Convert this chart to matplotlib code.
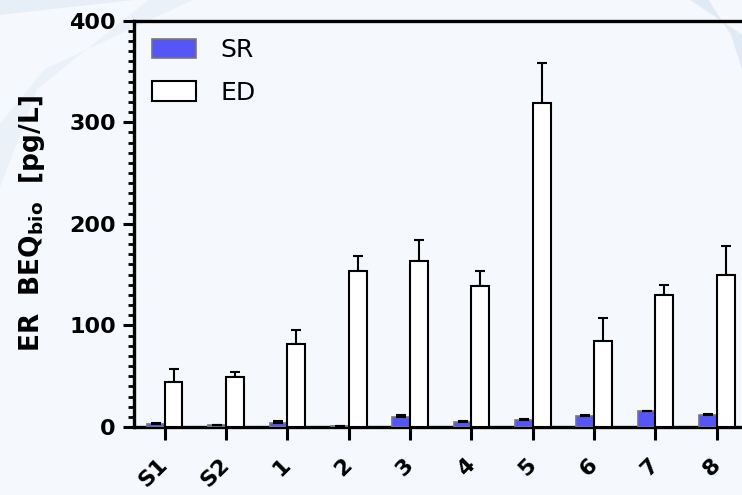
import matplotlib
matplotlib.use("Agg")
import matplotlib.pyplot as plt
import numpy as np
from matplotlib.patches import Polygon
from matplotlib.ticker import MultipleLocator

categories = ["S1", "S2", "1", "2", "3", "4", "5", "6", "7", "8"]
sr_values = [3, 1.5, 4, 1, 10, 4.6, 6.6, 11, 15.4, 12]
sr_errors = [0.5, 0.5, 1.5, 0.3, 1.5, 1.0, 1.0, 1.0, 0.8, 0.6]
ed_values = [44, 49, 82, 154, 163, 139, 319, 85, 130, 150]
ed_errors = [13, 5, 13, 14, 21, 15, 39, 22, 10, 28]

fig = plt.figure(figsize=(7.42, 4.95), dpi=100, facecolor="#f5f9fd")

# subtle background swooshes (behind everything)
fig.patches.append(Polygon([(0, 0.97), (0.18, 1.0), (0.0, 1.0)], closed=True,
                           transform=fig.transFigure, facecolor="#e6eef7", edgecolor="none", zorder=-10))
fig.patches.append(Polygon([(0, 0.62), (0.05, 0.82), (0.20, 1.0), (0.26, 1.0), (0.06, 0.86), (0, 0.75)],
                           closed=True, transform=fig.transFigure, facecolor="#eaf1f8", edgecolor="none", zorder=-10))
fig.patches.append(Polygon([(0.93, 1.0), (1.0, 0.93), (1.0, 0.86), (0.985, 0.93), (0.955, 1.0)], closed=True,
                           transform=fig.transFigure, facecolor="#e0eaf5", edgecolor="none", zorder=-10))

ax = fig.add_axes([0.1806, 0.1374, 0.8194, 0.8209])
ax.set_facecolor("none")

x = np.arange(len(categories))
w = 0.29
ax.bar(x - w / 2, sr_values, width=w, color="#5555f8", edgecolor="#777777", linewidth=1.2,
       label="SR", zorder=3)
ax.errorbar(x - w / 2, sr_values, yerr=[np.zeros(len(sr_errors)), sr_errors], fmt="none",
            ecolor="black", elinewidth=1.5, capsize=3.6, capthick=1.5, zorder=4)
ax.bar(x + w / 2, ed_values, width=w, color="white", edgecolor="black", linewidth=1.5,
       label="ED", zorder=3)
ax.errorbar(x + w / 2, ed_values, yerr=[np.zeros(len(ed_errors)), ed_errors], fmt="none",
            ecolor="black", elinewidth=1.5, capsize=3.6, capthick=1.5, zorder=2)

ax.set_xlim(-0.5, 9.41)
ax.set_ylim(0, 400)
ax.yaxis.set_major_locator(MultipleLocator(100))
ax.yaxis.set_minor_locator(MultipleLocator(10))

for s in ["left", "bottom", "top"]:
    ax.spines[s].set_linewidth(2.4)
ax.spines["right"].set_visible(False)

ax.tick_params(axis="y", which="major", length=8, width=2.2, direction="out", pad=5)
ax.tick_params(axis="y", which="minor", length=4.5, width=2.0, direction="out")
ax.tick_params(axis="x", which="major", length=9, width=2.2, direction="out", pad=16)
ax.tick_params(top=False, right=False, which="both")

ax.set_xticks(x)
ax.set_xticklabels(categories, rotation=45, ha="right", va="center", rotation_mode="anchor",
                   fontsize=16, fontweight="bold", family="DejaVu Sans")
for lab in ax.get_yticklabels():
    lab.set_fontsize(16)
    lab.set_fontweight("bold")

ylab = ax.set_ylabel(r"ER  BEQ$_{\mathbf{bio}}$  [pg/L]", fontsize=19, fontweight="bold", labelpad=16)
ylab.set_zorder(10)

leg = ax.legend(loc="upper left", bbox_to_anchor=(0.0, 1.0), frameon=False, fontsize=18,
                handlelength=1.76, handleheight=0.84, handletextpad=1.0, labelspacing=0.75,
                borderaxespad=0.3)

fig.savefig("out.png", dpi=100, facecolor=fig.get_facecolor())
